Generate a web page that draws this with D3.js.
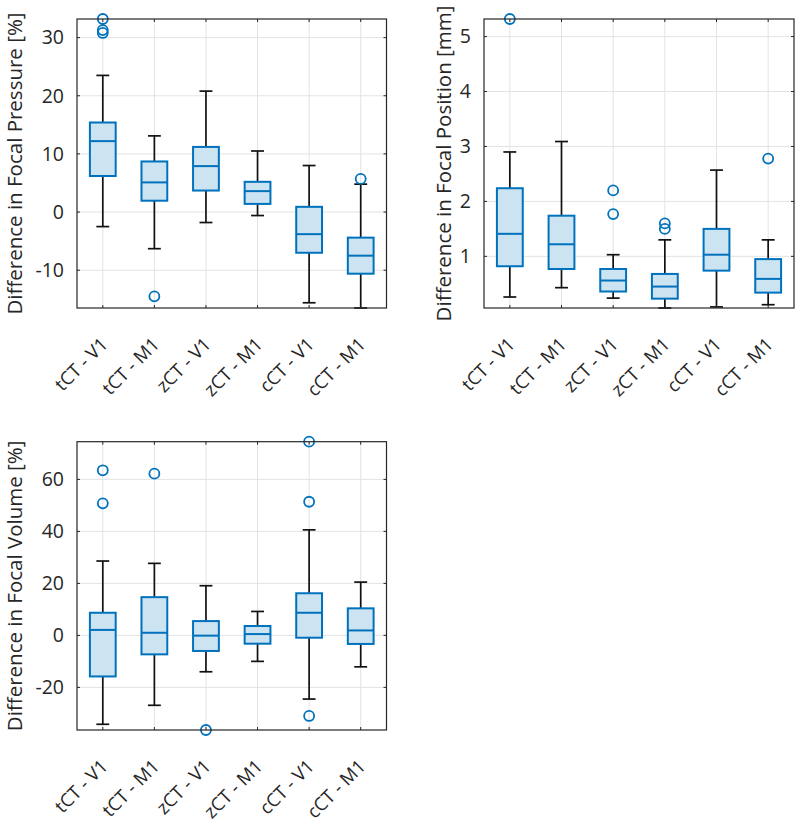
<!DOCTYPE html>
<html>
<head>
<meta charset="utf-8">
<script src="https://cdn.jsdelivr.net/npm/d3@7"></script>
<style>
body { margin: 0; background: #fff; }
text { font-family: "Open Sans", sans-serif; fill: #262626; }
</style>
</head>
<body>
<svg id="chart" width="800" height="822"></svg>
<script>
var categories = ["tCT - V1", "tCT - M1", "zCT - V1", "zCT - M1", "cCT - V1", "cCT - M1"]

// focal pressure [%]
var pressureLow = [-2.5, -6.3, -1.8, -0.6, -15.6, -16.5]
var pressureQ1 = [6.2, 1.95, 3.7, 1.4, -7.0, -10.6]
var pressureMed = [12.2, 5.1, 7.9, 3.6, -3.8, -7.5]
var pressureQ3 = [15.4, 8.7, 11.2, 5.2, 0.9, -4.4]
var pressureHigh = [23.5, 13.1, 20.8, 10.5, 8.0, 4.8]
var pressureOut = [[33.2, 31.3, 30.8], [-14.5], [], [], [], [5.7]]
var pressureTicks = [-10, 0, 10, 20, 30]

// focal position [mm]
var positionLow = [0.26, 0.43, 0.24, 0.06, 0.08, 0.12]
var positionQ1 = [0.82, 0.77, 0.36, 0.23, 0.74, 0.34]
var positionMed = [1.41, 1.22, 0.56, 0.45, 1.03, 0.59]
var positionQ3 = [2.24, 1.74, 0.77, 0.68, 1.50, 0.95]
var positionHigh = [2.90, 3.09, 1.03, 1.30, 2.57, 1.30]
var positionOut = [[5.32], [], [2.20, 1.77], [1.60, 1.50], [], [2.78]]
var positionTicks = [1, 2, 3, 4, 5]

// focal volume [%]
var volumeLow = [-34.2, -26.9, -14.0, -10.0, -24.5, -12.1]
var volumeQ1 = [-15.8, -7.3, -6.0, -3.2, -0.9, -3.3]
var volumeMed = [2.1, 1.0, -0.1, 0.5, 8.7, 1.9]
var volumeQ3 = [8.7, 14.7, 5.5, 3.6, 16.2, 10.4]
var volumeHigh = [28.6, 27.7, 19.1, 9.2, 40.6, 20.5]
var volumeOut = [[63.5, 50.8], [62.2], [-36.4], [], [74.5, 51.4, -31.0], []]
var volumeTicks = [-20, 0, 20, 40, 60]

var blue = "#0072BD"
var svg = d3.select("#chart")

function draw_panel(box, ylim, ticks, label, low, q1, med, q3, high, outliers) {
    var x = d3.scaleLinear().domain([0.5, categories.length + 0.5]).range([box.left, box.right])
    var y = d3.scaleLinear().domain(ylim).range([box.bottom, box.top])
    var g = svg.append("g")
    var boxW = x(1.25) - x(1)   // half box width (0.25 units)
    var capW = x(1.125) - x(1)

    // grid
    g.selectAll(".vgrid").data(categories).enter().append("line")
        .attr("x1", (d, i) => x(i + 1)).attr("x2", (d, i) => x(i + 1))
        .attr("y1", box.top).attr("y2", box.bottom)
        .style("stroke", "#e3e3e3").style("stroke-width", 1)
    g.selectAll(".hgrid").data(ticks).enter().append("line")
        .attr("x1", box.left).attr("x2", box.right)
        .attr("y1", d => y(d)).attr("y2", d => y(d))
        .style("stroke", "#e3e3e3").style("stroke-width", 1)

    // whiskers
    categories.forEach(function(c, i) {
        var cx = x(i + 1)
        g.append("line").attr("x1", cx).attr("x2", cx).attr("y1", y(q3[i])).attr("y2", y(high[i]))
            .style("stroke", "#111").style("stroke-width", 1.7)
        g.append("line").attr("x1", cx).attr("x2", cx).attr("y1", y(q1[i])).attr("y2", y(low[i]))
            .style("stroke", "#111").style("stroke-width", 1.7)
        g.append("line").attr("x1", cx - capW).attr("x2", cx + capW).attr("y1", y(high[i])).attr("y2", y(high[i]))
            .style("stroke", "#111").style("stroke-width", 1.7)
        g.append("line").attr("x1", cx - capW).attr("x2", cx + capW).attr("y1", y(low[i])).attr("y2", y(low[i]))
            .style("stroke", "#111").style("stroke-width", 1.7)
    })

    // boxes
    g.selectAll(".box").data(categories).enter().append("rect")
        .attr("x", (d, i) => x(i + 1) - boxW)
        .attr("y", (d, i) => y(q3[i]))
        .attr("width", boxW * 2)
        .attr("height", (d, i) => y(q1[i]) - y(q3[i]))
        .style("fill", "#cce3f2").style("stroke", blue).style("stroke-width", 2)
    g.selectAll(".median").data(categories).enter().append("line")
        .attr("x1", (d, i) => x(i + 1) - boxW).attr("x2", (d, i) => x(i + 1) + boxW)
        .attr("y1", (d, i) => y(med[i])).attr("y2", (d, i) => y(med[i]))
        .style("stroke", blue).style("stroke-width", 2)

    // outliers
    categories.forEach(function(c, i) {
        g.selectAll(".out" + i).data(outliers[i]).enter().append("circle")
            .attr("cx", x(i + 1)).attr("cy", d => y(d)).attr("r", 5)
            .style("fill", "none").style("stroke", blue).style("stroke-width", 1.8)
    })

    // axes box and inward ticks
    g.append("rect").attr("x", box.left).attr("y", box.top)
        .attr("width", box.right - box.left).attr("height", box.bottom - box.top)
        .style("fill", "none").style("stroke", "#262626").style("stroke-width", 1.2)
    categories.forEach(function(c, i) {
        var cx = x(i + 1)
        g.append("line").attr("x1", cx).attr("x2", cx).attr("y1", box.bottom).attr("y2", box.bottom - 3)
            .style("stroke", "#262626")
        g.append("line").attr("x1", cx).attr("x2", cx).attr("y1", box.top).attr("y2", box.top + 3)
            .style("stroke", "#262626")
    })
    ticks.forEach(function(t) {
        g.append("line").attr("x1", box.left).attr("x2", box.left + 3).attr("y1", y(t)).attr("y2", y(t))
            .style("stroke", "#262626")
        g.append("line").attr("x1", box.right).attr("x2", box.right - 3).attr("y1", y(t)).attr("y2", y(t))
            .style("stroke", "#262626")
    })

    // tick labels
    g.selectAll(".ytick").data(ticks).enter().append("text")
        .attr("x", box.left - 13).attr("y", d => y(d)).attr("dy", "0.35em")
        .attr("text-anchor", "end").style("font-size", "19.5px")
        .text(d => d)
    g.selectAll(".xtick").data(categories).enter().append("text")
        .attr("transform", (d, i) => "translate(" + (x(i + 1) + 1.5) + "," + (box.bottom + 33) + ") rotate(-45)")
        .attr("dy", "0.35em").attr("text-anchor", "end").style("font-size", "18.5px")
        .text(d => d)

    // y label
    g.append("text")
        .attr("transform", "translate(" + box.labelX + "," + ((box.top + box.bottom) / 2) + ") rotate(-90)")
        .attr("text-anchor", "middle").style("font-size", "20.5px")
        .text(label)
}

draw_panel({left: 77, right: 386.5, top: 19, bottom: 308, labelX: 22}, [-16.5, 33.2], pressureTicks,
    "Difference in Focal Pressure [%]", pressureLow, pressureQ1, pressureMed, pressureQ3, pressureHigh, pressureOut)
draw_panel({left: 484, right: 794, top: 19, bottom: 308, labelX: 451}, [0.06, 5.32], positionTicks,
    "Difference in Focal Position [mm]", positionLow, positionQ1, positionMed, positionQ3, positionHigh, positionOut)
draw_panel({left: 77, right: 386.5, top: 441.7, bottom: 730, labelX: 22}, [-36.4, 74.5], volumeTicks,
    "Difference in Focal Volume [%]", volumeLow, volumeQ1, volumeMed, volumeQ3, volumeHigh, volumeOut)
</script>
</body>
</html>
